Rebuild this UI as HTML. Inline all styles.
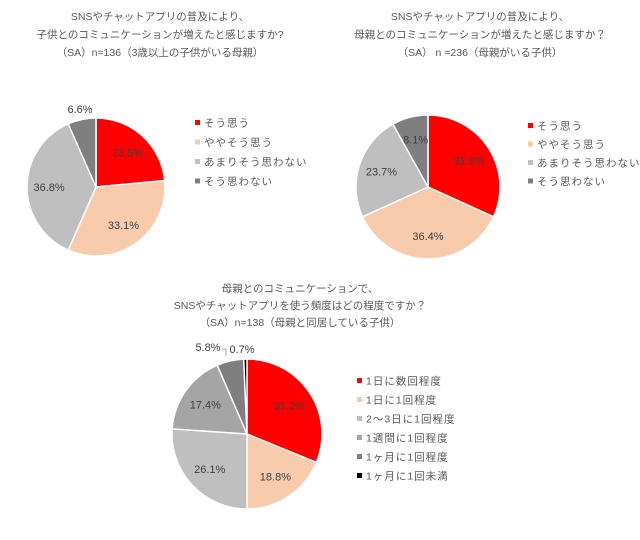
<!DOCTYPE html>
<html><head><meta charset="utf-8"><style>
body{margin:0;background:#fff;width:640px;height:535px;overflow:hidden}
svg{font-family:"Liberation Sans","Noto Sans CJK JP",sans-serif}
</style></head><body>
<svg id="c" width="640" height="535">
<g fill="#595959" font-size="10.5" text-anchor="middle">
<text x="160" y="20">SNSやチャットアプリの普及により、</text>
<text x="160" y="38">子供とのコミュニケーションが増えたと感じますか?</text>
<text x="160" y="56">（SA）n=136（3歳以上の子供がいる母親）</text></g>
<g fill="#595959" font-size="10.5" text-anchor="middle">
<text x="480" y="20">SNSやチャットアプリの普及により、</text>
<text x="480" y="38">母親とのコミュニケーションが増えたと感じますか？</text>
<text x="480" y="56">（SA） n =236（母親がいる子供）</text></g>
<g fill="#595959" font-size="10.5" text-anchor="middle">
<text x="300" y="292">母親とのコミュニケーションで、</text>
<text x="300" y="309">SNSやチャットアプリを使う頻度はどの程度ですか？</text>
<text x="300" y="326">（SA）n=138（母親と同居している子供）</text></g>
</svg>
<script>
const cats1=["そう思う","ややそう思う","あまりそう思わない","そう思わない"];
const vals1=[23.5,33.1,36.8,6.6];
const cats2=["そう思う","ややそう思う","あまりそう思わない","そう思わない"];
const vals2=[31.8,36.4,23.7,8.1];
const cats3=["1日に数回程度","1日に1回程度","2〜3日に1回程度","1週間に1回程度","1ヶ月に1回程度","1ヶ月に1回未満"];
const vals3=[31.2,18.8,26.1,17.4,5.8,0.7];
const NS="http://www.w3.org/2000/svg";
const svg=document.getElementById('c');
function mk(t,a,p){const e=document.createElementNS(NS,t);for(const k in a)e.setAttribute(k,a[k]);(p||svg).appendChild(e);return e;}
function pie(id,cats,vals,cols,cx,cy,r,lx,ly,step,outside){
  const g=mk('g',{});
  
  
  const tot=vals.reduce((a,b)=>a+b,0);let a0=0;
  vals.forEach((v,i)=>{
    const a1=a0+v/tot*2*Math.PI;
    const p=(a)=>[cx+r*Math.sin(a),cy-r*Math.cos(a)];
    const [x0,y0]=p(a0),[x1,y1]=p(a1);
    const s=mk('path',{d:`M${cx},${cy}L${x0},${y0}A${r},${r} 0 ${a1-a0>Math.PI?1:0} 1 ${x1},${y1}Z`,fill:cols[i],stroke:'#fff','stroke-width':1.5},g);
    
    
    const m=(a0+a1)/2;let tx,ty;
    if(outside&&outside[i]){tx=outside[i][0];ty=outside[i][1];}
    else{tx=cx+0.68*r*Math.sin(m);ty=cy-0.68*r*Math.cos(m);}
    const t=mk('text',{x:tx,y:ty+4,'text-anchor':'middle','font-size':11,fill:'#404040'},g);
    t.textContent=v.toFixed(1)+'%';
    
    
    a0=a1;
  });
  cats.forEach((c,i)=>{
    const e=mk('g',{},g);
    
    
    mk('rect',{x:lx,y:ly+i*step-3,width:5,height:5,fill:cols[i]},e);
    const t=mk('text',{x:lx+9,y:ly+i*step+3.5,'font-size':10.5,fill:'#595959','letter-spacing':1},e);
    t.textContent=c;
  });
  return g;
}
pie('pie-chart-1',cats1,vals1,['#ff0000','#f8cbad','#bfbfbf','#7f7f7f'],96,187,69,195,123,19.5,{3:[80,109]});
pie('pie-chart-2',cats2,vals2,['#ff0000','#f8cbad','#bfbfbf','#7f7f7f'],428,187,72,528,126,18.5);
pie('pie-chart-3',cats3,vals3,['#ff0000','#f8cbad','#bfbfbf','#a5a5a5','#7f7f7f','#000000'],247,434,75,357,381,19,{4:[208,347],5:[242,349]});
const ll=mk('path',{d:'M222,349H226V356',fill:'none',stroke:'#a6a6a6','stroke-width':1});


</script>
</body></html>
